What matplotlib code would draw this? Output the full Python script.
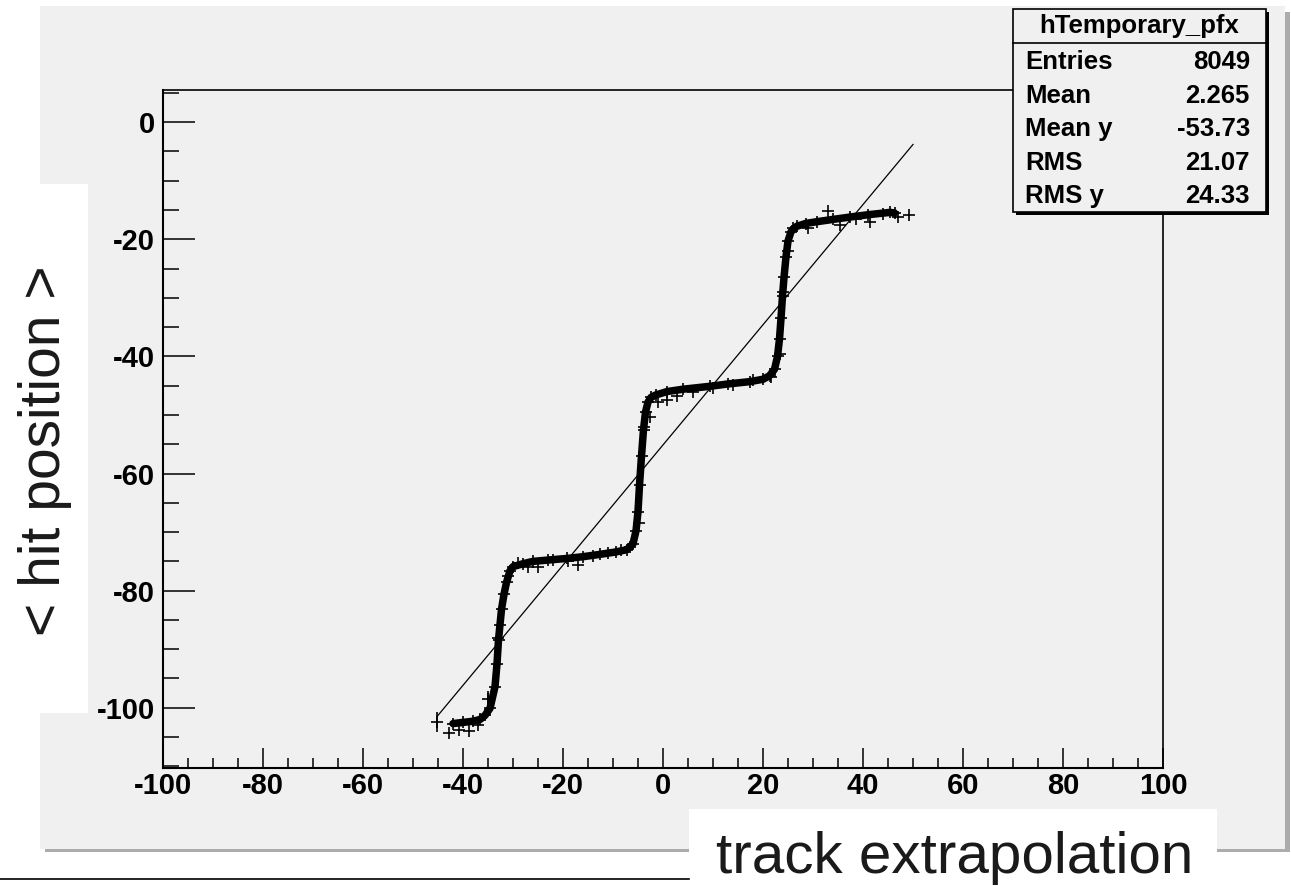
import matplotlib
matplotlib.use("Agg")
import matplotlib.pyplot as plt
from matplotlib.patches import Rectangle
from matplotlib.ticker import MultipleLocator

plt.rcParams["axes.unicode_minus"] = False

# ---------------- data ----------------
profile_x = [-42.0, -40.0, -38.0, -36.6, -35.6, -34.6, -33.6, -33.2, -32.9, -32.6, -32.3,
             -31.8, -31.3, -30.6, -30.0, -28.0, -26.0, -22.0, -19.2, -16.0, -12.6, -9.5,
             -7.2, -6.0, -5.4, -5.0, -4.7, -4.3, -3.9, -3.5, -3.0, -2.4, -1.5, 0.8, 4.0,
             9.4, 13.0, 17.4, 20.0, 21.3, 22.3, 22.9, 23.3, 23.6, 23.9, 24.2, 24.6, 25.0,
             25.6, 26.7, 28.5, 30.7, 34.0, 37.4, 41.0, 45.4, 46.3]
profile_y = [-102.7, -102.5, -102.3, -102.0, -101.3, -100.1, -96.4, -92.5, -88.4, -85.8, -83.2,
             -80.6, -78.6, -76.6, -75.9, -75.4, -75.0, -74.7, -74.5, -74.2, -73.8, -73.4,
             -73.0, -72.0, -69.8, -66.5, -62.0, -57.0, -52.5, -49.5, -47.8, -47.0, -46.6, -46.0, -45.6,
             -45.1, -44.7, -44.3, -43.9, -43.3, -42.2, -40.0, -37.0, -33.5, -29.7, -26.5, -23.0, -20.3,
             -18.7, -17.8, -17.3, -17.0, -16.6, -16.2, -15.8, -15.4, -15.5]

extra_x = [-45.2, -42.8, -40.8, -38.8, -37.0, -35.0, -33.0, -31.0, -29.0, -27.0, -25.0,
           -23.0, -19.0, -17.0, -14.0, -11.0, -8.5, -6.6, -4.8, -3.8, -2.6, -1.0, 0.8,
           2.8, 6.0, 10.0, 14.0, 18.0, 21.5, 23.4, 24.0, 25.0, 26.0, 29.0, 33.0, 35.4,
           38.5, 41.4, 44.0, 47.0, 49.2]
extra_y = [-102.4, -104.3, -103.8, -103.9, -103.0, -98.5, -88.0, -77.5, -75.3, -76.0, -75.9,
           -74.8, -75.0, -75.7, -74.0, -73.5, -73.0, -72.5, -68.5, -52.0, -50.3, -47.7, -47.5,
           -46.8, -46.0, -45.4, -44.8, -44.0, -43.5, -39.5, -29.0, -22.0, -18.0, -18.1, -15.2, -17.6,
           -16.6, -17.1, -15.7, -16.2, -15.9]
extra_err = [1.7, 0.0, 0.0, 0.0, 0.0, 1.4, 0.0, 0.0, 0.0, 0.0, 0.0,
             0.0, 0.0, 0.0, 0.0, 0.0, 0.0, 0.0, 0.0, 0.0, 0.0, 0.0, 0.0,
             0.0, 0.0, 0.0, 0.0, 0.0, 0.0, 0.0, 0.0, 0.0, 0.0, 0.0, 0.0, 0.0,
             0.0, 0.0, 0.0, 0.0, 0.0]

fit_x = [-45.2, 50.0]
fit_y = [-101.5, -3.8]

x_ticks = [-100, -80, -60, -40, -20, 0, 20, 40, 60, 80, 100]
y_ticks = [-100, -80, -60, -40, -20, 0]

stats_title = "hTemporary_pfx"
stats_names = ["Entries", "Mean", "Mean y", "RMS", "RMS y"]
stats_values = ["8049", "2.265", "-53.73", "21.07", "24.33"]

x_label = "track extrapolation"
y_label = "< hit position >"

# ---------------- figure ----------------
W, H = 1291, 886
fig = plt.figure(figsize=(W / 100, H / 100), dpi=100)
fig.patch.set_facecolor("white")
CANVAS = "#f0f0f0"
SHADOW = "#acacac"
FAM = ["Liberation Sans", "DejaVu Sans"]
BOLD = dict(family=FAM, fontweight="bold")

# background layer in pixel coordinates
bg = fig.add_axes([0, 0, 1, 1], zorder=0)
bg.set_xlim(0, W)
bg.set_ylim(H, 0)
bg.axis("off")
bg.add_patch(Rectangle((45, 12), 1245, 840, facecolor=SHADOW, edgecolor="none"))
bg.add_patch(Rectangle((40, 6), 1245, 843, facecolor=CANVAS, edgecolor="none"))
bg.add_patch(Rectangle((0, 184), 88, 529, facecolor="white", edgecolor="none"))
bg.add_patch(Rectangle((689, 809), 528, 80, facecolor="white", edgecolor="none"))
bg.plot([0, 689], [879, 879], color="black", lw=1.2)

# main axes
ax_left, ax_right, ax_top, ax_bot = 163, 1163, 90, 767.5
ax = fig.add_axes([ax_left / W, (H - ax_bot) / H, (ax_right - ax_left) / W, (ax_bot - ax_top) / H],
                  zorder=1)
ax.set_facecolor(CANVAS)
ax.set_xlim(-100, 100)
ax.set_ylim(-110.2, 5.5)

ax.plot(fit_x, fit_y, color="black", lw=0.9, zorder=2)
ax.plot(profile_x, profile_y, color="black", lw=5.4, solid_capstyle="round",
        solid_joinstyle="round", zorder=3)
ax.plot(profile_x, profile_y, linestyle="none", marker="+", ms=8, mew=1.2, color="black", zorder=3)
ax.errorbar(extra_x, extra_y, yerr=extra_err, fmt="+", ms=9, mew=1.2, color="black",
            elinewidth=1.2, capsize=0, zorder=3)

ax.set_xticks(x_ticks)
ax.set_yticks(y_ticks)
ax.xaxis.set_minor_locator(MultipleLocator(5))
ax.yaxis.set_minor_locator(MultipleLocator(5))
ax.tick_params(axis="x", which="major", direction="in", length=14.5, width=1.1, pad=3,
               top=False, labelsize=21)
ax.tick_params(axis="x", which="minor", direction="in", length=7.4, width=1.1, top=False)
ax.tick_params(axis="y", which="major", direction="in", length=23, width=1.1, pad=5.5,
               right=False, labelsize=21)
ax.tick_params(axis="y", which="minor", direction="in", length=11.5, width=1.1, right=False)
for lab in ax.get_xticklabels() + ax.get_yticklabels():
    lab.set_fontfamily(FAM)
    lab.set_fontweight("bold")
for s in ["left", "bottom"]:
    ax.spines[s].set_linewidth(1.5)
for s in ["top", "right"]:
    ax.spines[s].set_linewidth(1.2)

# overlay: stats box and axis titles
ov = fig.add_axes([0, 0, 1, 1], zorder=3)
ov.set_xlim(0, W)
ov.set_ylim(H, 0)
ov.axis("off")
ov.patch.set_alpha(0)
bx, by, bw, bh = 1013, 9, 253, 203
ov.add_patch(Rectangle((bx + 3, by + 3), bw, bh, facecolor="black", edgecolor="none"))
ov.add_patch(Rectangle((bx, by), bw, bh, facecolor=CANVAS, edgecolor="black", lw=1.2))
ov.plot([bx, bx + bw], [by + 34, by + 34], color="black", lw=1.2)
ov.text(bx + bw / 2, by + 17, stats_title, ha="center", va="center", fontsize=18.5, **BOLD)
row_y0, row_dy = 62, 33.5
for i, (n, v) in enumerate(zip(stats_names, stats_values)):
    yy = row_y0 + i * row_dy
    ov.text(bx + 12, yy, n, ha="left", va="center", fontsize=18.5, **BOLD)
    ov.text(bx + bw - 16, yy, v, ha="right", va="center", fontsize=18.5, **BOLD)

ov.text(45, 451, y_label, rotation=90, ha="center", va="center", fontsize=41,
        family=FAM, color="#1a1a1a")
ov.text(955, 858, x_label, ha="center", va="center", fontsize=42,
        family=FAM, color="#1a1a1a")

fig.savefig("out.png", dpi=100)
